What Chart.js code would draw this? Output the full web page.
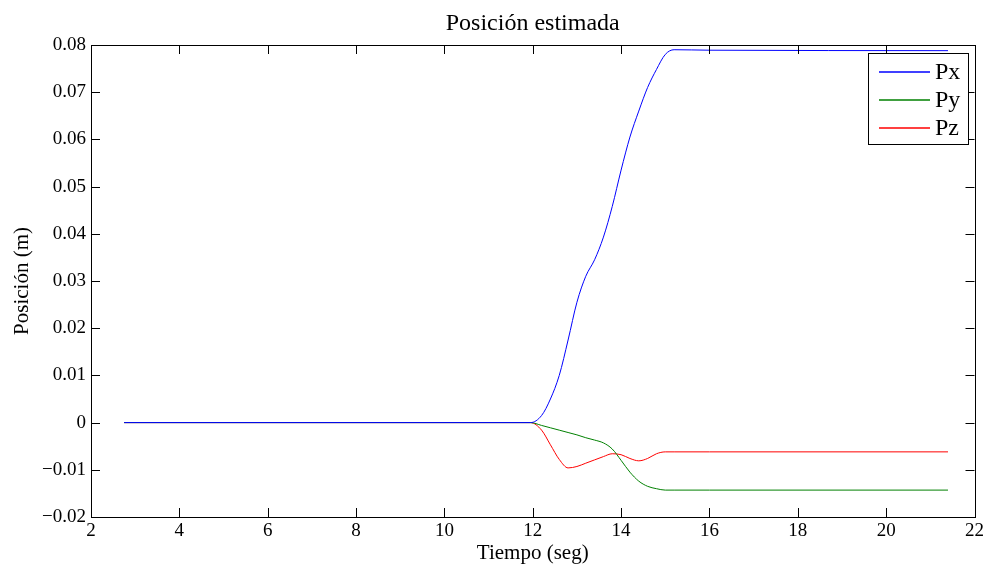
<!DOCTYPE html>
<html>
<head>
<meta charset="utf-8">
<script src="https://cdn.jsdelivr.net/npm/chart.js@4"></script>
<style>
  html, body { margin: 0; padding: 0; background: #fff; }
  #wrap { width: 987px; height: 566px; }
</style>
</head>
<body>
<div id="wrap"><canvas id="myChart" width="987" height="566"></canvas></div>
<script>
const tiempo = [2.75, 11.95, 12.2, 12.4, 12.6, 12.8, 13.0, 13.2, 13.4, 13.6, 13.8, 14.0, 14.2, 14.4, 14.6, 14.8, 15.0, 15.2, 16, 21.4];
const px = [0, 0, 0.0015, 0.0050, 0.0100, 0.0175, 0.0255, 0.0310, 0.0345, 0.0393, 0.0458, 0.0535, 0.0605, 0.0660, 0.0710, 0.0748, 0.0780, 0.0790, 0.0789, 0.0788];
const py = [0, 0, -0.0006, -0.0011, -0.0016, -0.0021, -0.0026, -0.0032, -0.0037, -0.0043, -0.0056, -0.0080, -0.0105, -0.0124, -0.0135, -0.0140, -0.0143, -0.0143, -0.0143, -0.0143];
const pz = [0, 0, -0.0016, -0.0047, -0.0078, -0.0096, -0.0093, -0.0086, -0.0079, -0.0072, -0.0066, -0.0068, -0.0076, -0.0081, -0.0076, -0.0066, -0.0062, -0.0062, -0.0062, -0.0062];
const seriesNames = ["Px", "Py", "Pz"];
const seriesColors = ["#0000ff", "#008000", "#ff0000"];
const xTicks = [2, 4, 6, 8, 10, 12, 14, 16, 18, 20, 22];
const yTicks = [-0.02, -0.01, 0, 0.01, 0.02, 0.03, 0.04, 0.05, 0.06, 0.07, 0.08];
const chartTitle = "Posición estimada";

const FONT = "'Liberation Serif', 'Times New Roman', serif";

function toPoints(values) {
  return values.map((v, i) => ({ x: tiempo[i], y: v }));
}

function formatY(v) {
  if (Math.abs(v) < 1e-9) return "0";
  return (v < 0 ? "\u2212" : "") + Math.abs(v).toFixed(2);
}

// frame, inward ticks on all four sides, title over the plot and boxed legend
const matlabFrame = {
  id: "matlabFrame",
  afterDraw(chart) {
    const { ctx, chartArea: a, scales } = chart;
    const tl = 9;
    ctx.save();
    ctx.strokeStyle = "#000";
    ctx.lineWidth = 1;
    ctx.beginPath();
    xTicks.forEach((t) => {
      const x = Math.round(scales.x.getPixelForValue(t)) + 0.5;
      ctx.moveTo(x, a.bottom); ctx.lineTo(x, a.bottom - tl);
      ctx.moveTo(x, a.top); ctx.lineTo(x, a.top + tl);
    });
    yTicks.forEach((t) => {
      const y = Math.round(scales.y.getPixelForValue(t)) + 0.5;
      ctx.moveTo(a.left, y); ctx.lineTo(a.left + tl, y);
      ctx.moveTo(a.right, y); ctx.lineTo(a.right - tl, y);
    });
    ctx.stroke();
    ctx.strokeRect(Math.round(a.left) + 0.5, Math.round(a.top) + 0.5,
      Math.round(a.right - a.left), Math.round(a.bottom - a.top));

    // title, centred over the plot area
    ctx.fillStyle = "#000";
    ctx.font = "24px " + FONT;
    ctx.textAlign = "center";
    ctx.textBaseline = "alphabetic";
    ctx.fillText(chartTitle, (a.left + a.right) / 2, 30);

    // legend
    const bx = 868.5, by = 53.5, bw = 100, bh = 91;
    ctx.fillStyle = "#fff";
    ctx.fillRect(bx, by, bw, bh);
    ctx.strokeStyle = "#000";
    ctx.strokeRect(bx, by, bw, bh);
    ctx.font = "24px " + FONT;
    ctx.textBaseline = "middle";
    ctx.textAlign = "left";
    seriesNames.forEach((name, i) => {
      const yy = 72 + i * 28;
      ctx.strokeStyle = seriesColors[i];
      ctx.lineWidth = 1.3;
      ctx.beginPath();
      ctx.moveTo(879, yy);
      ctx.lineTo(930, yy);
      ctx.stroke();
      ctx.fillStyle = "#000";
      ctx.fillText(name, 935, yy + 1);
    });
    ctx.restore();
  }
};

const ctx = document.getElementById("myChart");

new Chart(ctx, {
  type: "line",
  data: {
    datasets: [px, py, pz].map((vals, i) => ({
      label: seriesNames[i],
      data: toPoints(vals),
      borderColor: seriesColors[i],
      borderWidth: 1,
      pointRadius: 0,
      cubicInterpolationMode: "monotone",
      fill: false,
    })),
  },
  options: {
    responsive: false,
    animation: false,
    layout: { padding: { left: 0, right: 10, top: 45, bottom: 0 } },
    plugins: {
      legend: { display: false },
      tooltip: { enabled: false },
      title: { display: false },
    },
    scales: {
      x: {
        type: "linear",
        min: 2,
        max: 22,
        grid: { display: false, drawTicks: false },
        border: { display: false },
        afterBuildTicks: (scale) => { scale.ticks = xTicks.map((v) => ({ value: v })); },
        afterFit: (scale) => { scale.height = 49; },
        ticks: {
          padding: 3,
          color: "#000",
          font: { family: FONT, size: 19 },
          callback: (v) => String(v),
        },
        title: {
          display: true,
          text: "Tiempo (seg)",
          color: "#000",
          font: { family: FONT, size: 21 },
          padding: { top: 0, bottom: 0 },
        },
      },
      y: {
        min: -0.02,
        max: 0.08,
        grid: { display: false, drawTicks: false },
        border: { display: false },
        afterBuildTicks: (scale) => { scale.ticks = yTicks.map((v) => ({ value: v })); },
        afterFit: (scale) => { scale.width = 91; },
        ticks: {
          padding: 5,
          color: "#000",
          font: { family: FONT, size: 19 },
          callback: (v) => formatY(v),
        },
        title: {
          display: true,
          text: "Posición (m)",
          color: "#000",
          font: { family: FONT, size: 21 },
          padding: { top: 10, bottom: 0 },
        },
      },
    },
  },
  plugins: [matlabFrame],
});
</script>
</body>
</html>
